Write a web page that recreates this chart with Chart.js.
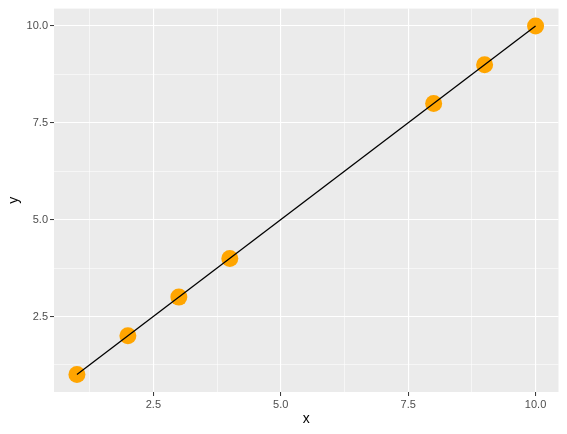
<!DOCTYPE html>
<html>
<head>
<meta charset="utf-8">
<script src="https://cdn.jsdelivr.net/npm/chart.js@4/dist/chart.umd.min.js"></script>
<style>
  html, body { margin: 0; padding: 0; background: #fff; }
  #wrap { width: 567px; height: 434px; }
</style>
</head>
<body>
<div id="wrap"><canvas id="myChart"></canvas></div>
<script>
const xValues = [1, 2, 3, 4, 8, 9, 10]
const yValues = [1, 2, 3, 4, 8, 9, 10]
const fitX = [1, 10]
const fitY = [1, 10]
const gridTicks = [1.25, 2.5, 3.75, 5, 6.25, 7.5, 8.75, 10]
const axisMin = 0.55
const axisMax = 10.45

const isMajor = (v) => Math.abs(v / 2.5 - Math.round(v / 2.5)) < 1e-6

const panelBg = {
  id: "panelBg",
  beforeDraw(chart) {
    const { ctx, chartArea: a } = chart
    ctx.save()
    ctx.fillStyle = "#EBEBEB"
    ctx.fillRect(a.left, a.top, a.right - a.left, a.bottom - a.top)
    ctx.restore()
  },
}

function axis(title, fixSize, titlePad) {
  return {
    type: "linear",
    min: axisMin,
    max: axisMax,
    afterBuildTicks: (scale) => {
      scale.ticks = gridTicks.map((v) => ({ value: v }))
    },
    afterFit: fixSize,
    border: { display: false },
    grid: {
      color: "#FFFFFF",
      lineWidth: (c) => (isMajor(c.tick.value) ? 1.1 : 0.55),
      tickColor: (c) => (isMajor(c.tick.value) ? "#333333" : "rgba(0,0,0,0)"),
      tickLength: 4,
      tickWidth: 1,
    },
    ticks: {
      color: "#4D4D4D",
      font: { family: "Liberation Sans", size: 11 },
      padding: 2,
      maxRotation: 0,
      autoSkip: false,
      callback: (v) => (isMajor(v) ? v.toFixed(1) : ""),
    },
    title: {
      display: true,
      text: title,
      color: "#000000",
      font: { family: "Liberation Sans", size: 14 },
      padding: titlePad,
    },
  }
}

const config = {
  type: "scatter",
  data: {
    datasets: [
      {
        type: "line",
        label: "fit",
        data: fitX.map((x, i) => ({ x, y: fitY[i] })),
        borderColor: "#000000",
        borderWidth: 1.3,
        pointRadius: 0,
        fill: false,
      },
      {
        label: "points",
        data: xValues.map((x, i) => ({ x, y: yValues[i] })),
        backgroundColor: "#FFA500",
        borderWidth: 0,
        pointRadius: 8.5,
      },
    ],
  },
  options: {
    responsive: true,
    maintainAspectRatio: false,
    animation: false,
    layout: { padding: { top: 6, right: 8, left: 0, bottom: 0 } },
    plugins: { legend: { display: false }, tooltip: { enabled: false } },
    scales: {
      x: axis("x", (s) => { s.height = 42 }, { top: 2, bottom: 6 }),
      y: axis("y", (s) => { s.width = 54 }, { top: 6, bottom: 4 }),
    },
  },
  plugins: [panelBg],
}

new Chart(document.getElementById("myChart").getContext("2d"), config)
</script>
</body>
</html>
